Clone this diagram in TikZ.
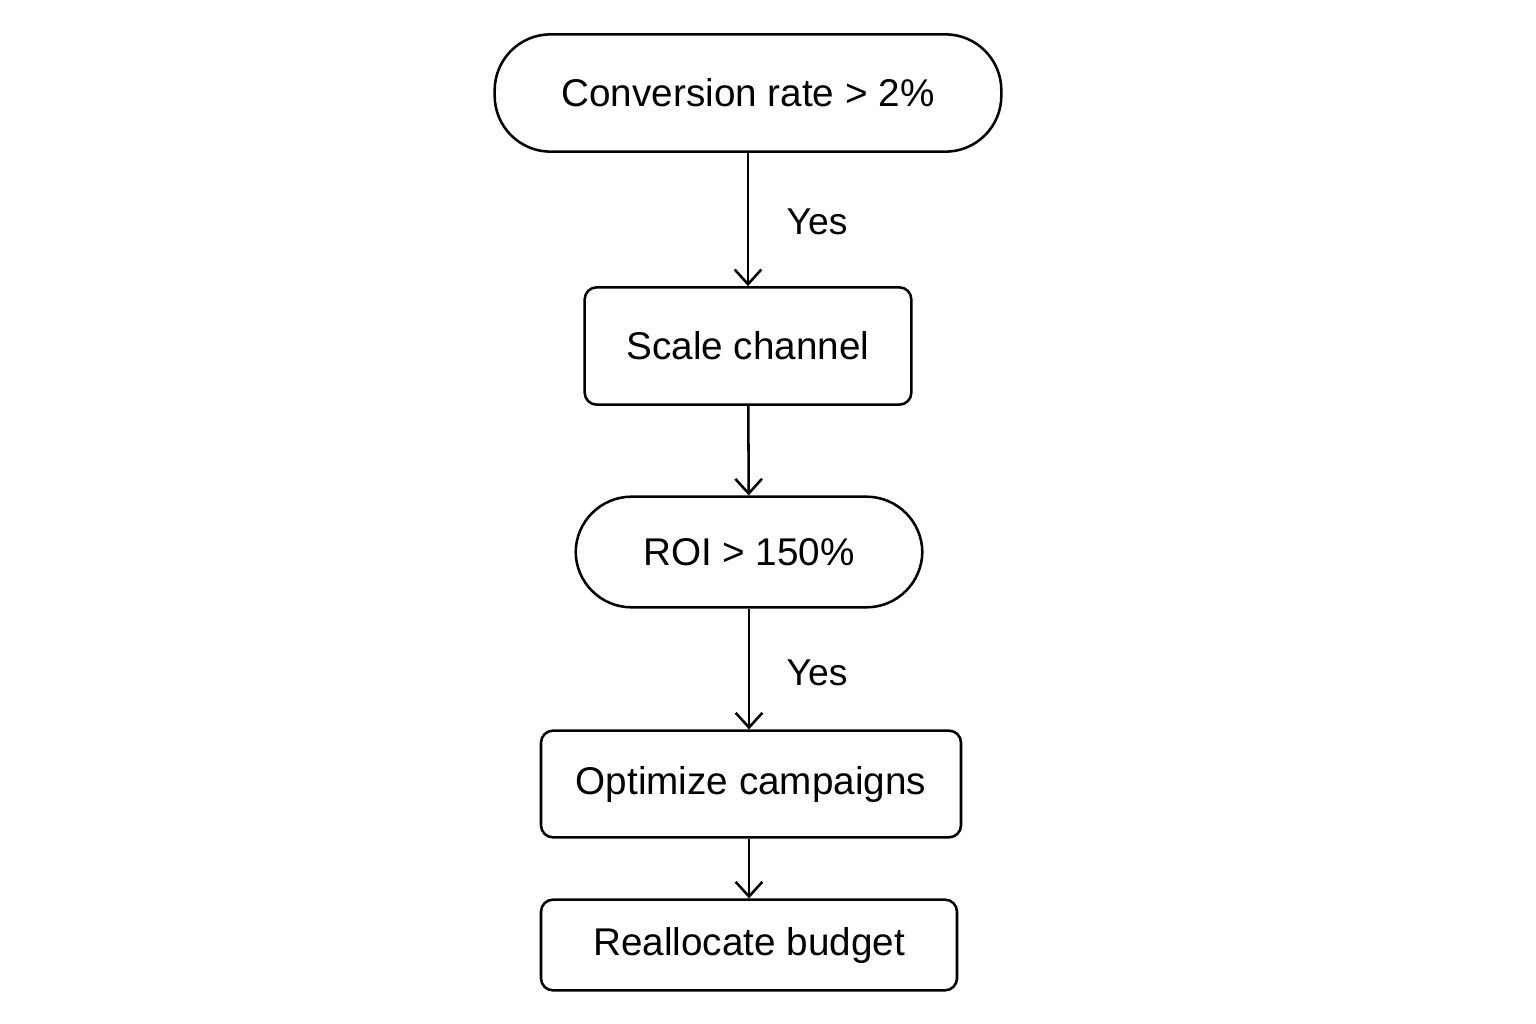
\documentclass[tikz,border=0pt]{standalone}
\usepackage{fontspec}
\setmainfont{Liberation Sans}
\usetikzlibrary{arrows.meta}
\tikzset{every picture/.style={line width=1.9pt}}
\tikzset{
  term/.style={draw, rounded corners=42pt, font=\fontsize{29}{34}\selectfont},
  proc/.style={draw, rounded corners=9pt, font=\fontsize{29}{34}\selectfont},
  lbl/.style={font=\fontsize{28}{32}\selectfont},
  flow/.style={-{Straight Barb[length=11pt,width=20pt,line width=1.9pt]}}
}
\begin{document}
\begin{tikzpicture}[x=0.75pt,y=0.75pt,yscale=-1,xscale=1]
\path (0,0) rectangle (1536,1024); %set diagram size

% Terminal
\node [term, minimum width=380pt, minimum height=88pt] (conv) at (748,93) {Conversion rate > 2\%};
% Process
\node [proc, minimum width=245pt, minimum height=88pt] (scale) at (748,346) {Scale channel};
% Terminal
\node [term, minimum width=260pt, minimum height=83pt] (roi) at (749,552) {ROI > 150\%};
% Process
\node [proc, minimum width=315pt, minimum height=80pt] (optim) at (751,784) {Optimize campaigns};
% Process
\node [proc, minimum width=312pt, minimum height=68pt] (realloc) at (749,945) {Reallocate budget};

% Arrows
\draw [flow] (conv.south -| scale) -- (scale.north);
\draw [flow] (scale) -- (roi);
\draw [flow] (roi.south) -- (roi.south |- optim.north);
\draw [flow] (optim.south -| roi) -- (roi |- realloc.north);

% Text Node
\node [lbl] (yes1) at (817,222) {Yes};
% Text Node
\node [lbl] (yes2) at (817,673) {Yes};
\end{tikzpicture}
\end{document}
